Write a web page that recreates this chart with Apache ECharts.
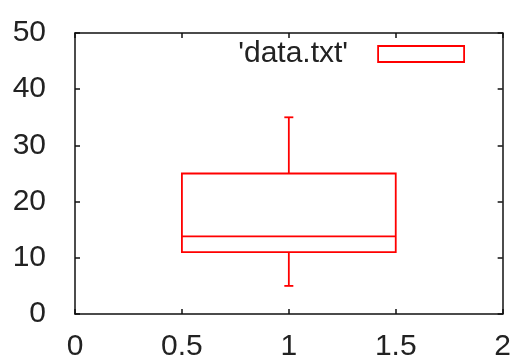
<!DOCTYPE html>
<html>
<head>
<meta charset="utf-8">
<script src="https://cdn.jsdelivr.net/npm/echarts@6/dist/echarts.min.js"></script>
<style>
  html, body { margin: 0; padding: 0; background: #ffffff; }
  #chart { width: 514px; height: 362px; }
</style>
</head>
<body>
<div id="chart"></div>
<script>
// Box-and-whisker summary of data.txt
const seriesName = "'data.txt'";
const boxPositions = [1];
const whiskerLow = [5];
const quartileLow = [11];
const medians = [13.8];
const quartileHigh = [25];
const whiskerHigh = [35];

// Axis ranges and tick steps
const xRange = [0, 2];
const xStep = 0.5;
const yRange = [0, 50];
const yStep = 10;

const RED = '#ff0000';
const INK = '#222222';
const FONT = '"Liberation Sans", Arial, sans-serif';
const BOX_HALF = 0.5;   // half width of the box, in x units
const CAP_HALF = 4.5;   // half width of whisker caps, in pixels
const STROKE = 1.8;

const boxData = boxPositions.map((x, i) => [
  x, whiskerLow[i], quartileLow[i], medians[i], quartileHigh[i], whiskerHigh[i]
]);

function renderBox(params, api) {
  const x = api.value(0);
  const pMin = api.coord([x, api.value(1)]);
  const pQ1 = api.coord([x - BOX_HALF, api.value(2)]);
  const pMed = api.coord([x, api.value(3)]);
  const pQ3 = api.coord([x + BOX_HALF, api.value(4)]);
  const pMax = api.coord([x, api.value(5)]);
  const line = { stroke: RED, lineWidth: STROKE, fill: null };
  const seg = (x1, y1, x2, y2) => ({ type: 'line', shape: { x1, y1, x2, y2 }, style: line });
  return {
    type: 'group',
    children: [
      { type: 'rect',
        shape: { x: pQ1[0], y: pQ3[1], width: pQ3[0] - pQ1[0], height: pQ1[1] - pQ3[1] },
        style: { fill: 'none', stroke: RED, lineWidth: STROKE } },
      seg(pQ1[0], pMed[1], pQ3[0], pMed[1]),
      seg(pMax[0], pQ3[1], pMax[0], pMax[1]),
      seg(pMax[0] - CAP_HALF, pMax[1], pMax[0] + CAP_HALF, pMax[1]),
      seg(pMin[0], pQ1[1], pMin[0], pMin[1]),
      seg(pMin[0] - CAP_HALF, pMin[1], pMin[0] + CAP_HALF, pMin[1])
    ]
  };
}

const frameLine = { show: true, onZero: false, lineStyle: { color: '#111', width: 1.5 } };
const innerTick = { show: true, inside: true, length: 5, lineStyle: { color: '#111', width: 1.5 } };
const labelText = { color: INK, fontFamily: FONT, fontSize: 30 };

const chart = echarts.init(document.getElementById('chart'), null, { renderer: 'canvas' });
chart.setOption({
  backgroundColor: '#ffffff',
  animation: false,
  grid: { left: 75, right: 9, top: 33, bottom: 47, containLabel: false },
  legend: {
    data: [{ name: seriesName, icon: 'rect' }],
    right: 49,
    top: 39,
    padding: 0,
    align: 'right',
    itemWidth: 86,
    itemHeight: 16,
    selectedMode: false,
    itemStyle: { color: 'transparent', borderColor: RED, borderWidth: STROKE },
    textStyle: { color: INK, fontFamily: FONT, fontSize: 30, padding: [0, 25, 0, 0] }
  },
  xAxis: [
    { type: 'value', min: xRange[0], max: xRange[1], interval: xStep, position: 'bottom',
      axisLine: frameLine, axisTick: innerTick, splitLine: { show: false },
      axisLabel: Object.assign({ margin: 18 }, labelText) },
    { type: 'value', min: xRange[0], max: xRange[1], interval: xStep, position: 'top',
      axisLine: frameLine, axisTick: innerTick, splitLine: { show: false },
      axisLabel: { show: false } }
  ],
  yAxis: [
    { type: 'value', min: yRange[0], max: yRange[1], interval: yStep, position: 'left',
      axisLine: frameLine, axisTick: innerTick, splitLine: { show: false },
      axisLabel: Object.assign({ margin: 29, padding: [0, 0, 9, 0] }, labelText) },
    { type: 'value', min: yRange[0], max: yRange[1], interval: yStep, position: 'right',
      axisLine: frameLine, axisTick: innerTick, splitLine: { show: false },
      axisLabel: { show: false } }
  ],
  series: [{
    name: seriesName,
    type: 'custom',
    xAxisIndex: 0,
    yAxisIndex: 0,
    renderItem: renderBox,
    encode: { x: 0, y: [1, 2, 3, 4, 5] },
    data: boxData,
    itemStyle: { color: RED }
  }]
});
</script>
</body>
</html>
